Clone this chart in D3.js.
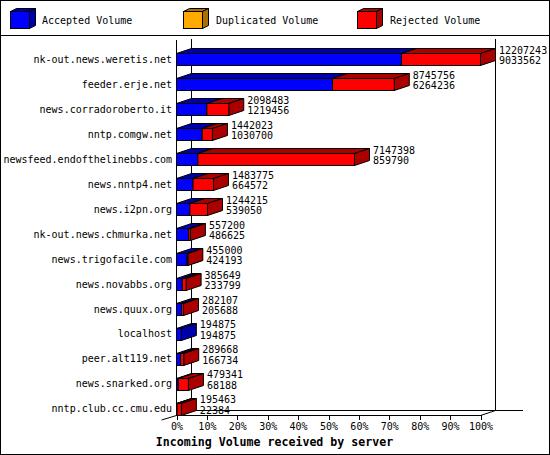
<!DOCTYPE html>
<html><head><meta charset="utf-8">
<script src="https://cdn.jsdelivr.net/npm/d3@7"></script>
<style>
html,body{margin:0;padding:0;background:#fff;}
svg{display:block;}
text{font-family:"DejaVu Sans Mono",monospace;}
</style></head>
<body>
<script>
const servers = ["nk-out.news.weretis.net","feeder.erje.net","news.corradoroberto.it","nntp.comgw.net","newsfeed.endofthelinebbs.com","news.nntp4.net","news.i2pn.org","nk-out.news.chmurka.net","news.trigofacile.com","news.novabbs.org","news.quux.org","localhost","peer.alt119.net","news.snarked.org","nntp.club.cc.cmu.edu"];
const acceptedVolume = [9033562,6264236,1219456,1030700,859790,664572,539050,486625,424193,233799,205688,194875,166734,68188,22384];
const duplicatedVolume = [0,0,0,0,0,0,0,0,0,0,0,0,0,0,0];
const rejectedVolume = [3173681,2481520,879027,411323,6287608,819203,705165,70575,30807,151850,76419,0,122934,411153,173079];
const tickPercents = [0,10,20,30,40,50,60,70,80,90,100];
const seriesNames = ["Accepted Volume","Duplicated Volume","Rejected Volume"];
const frontColors = ["#0000ff","#ffaa00","#ff0000"];
const darkColors = ["#0000aa","#aa7100","#aa0000"];

const W = 550, H = 455;
const svg = d3.select("body").append("svg").attr("width", W).attr("height", H);

const totals = servers.map((s,i)=>acceptedVolume[i]+duplicatedVolume[i]+rejectedVolume[i]);
const maxTotal = d3.max(totals);
const x = d3.scaleLinear().domain([0, maxTotal]).range([176.5, 480.5]);
const y = d3.scaleBand().domain(servers).range([47, 421.3]).padding(0);
const DX = 15, DY = 5, BH = 12;

// outer border & legend separator
svg.append("rect").attr("x",0.5).attr("y",0.5).attr("width",549).attr("height",454)
  .attr("fill","none").attr("stroke","#000").attr("shape-rendering","crispEdges");
svg.append("line").attr("x1",0).attr("x2",550).attr("y1",35.5).attr("y2",35.5)
  .attr("stroke","#000").attr("shape-rendering","crispEdges");

// legend
const legX = [10,183,357], legTX = [42,216,390];
seriesNames.forEach((n,i)=>{
  const g = svg.append("g");
  const bx = legX[i]+0.5, by = 11.5, bw = 19, bh = 17, dx = 6, dy = 3;
  g.append("polygon").attr("points",[[bx,by],[bx+dx,by-dy],[bx+bw+dx,by-dy],[bx+bw,by]].join(" "))
    .attr("fill",darkColors[i]).attr("stroke","#000");
  g.append("polygon").attr("points",[[bx+bw,by],[bx+bw+dx,by-dy],[bx+bw+dx,by+bh-dy],[bx+bw,by+bh]].join(" "))
    .attr("fill",darkColors[i]).attr("stroke","#000");
  g.append("rect").attr("x",bx).attr("y",by).attr("width",bw).attr("height",bh)
    .attr("fill",frontColors[i]).attr("stroke","#000");
  g.append("text").attr("x",legTX[i]).attr("y",20).attr("dominant-baseline","central")
    .attr("font-size","10px").attr("fill","#000").text(n);
});

// axes frame
const frame = svg.append("g").attr("stroke","#000").attr("fill","none").attr("shape-rendering","crispEdges");
const x0 = x(0), x1 = x(maxTotal), yF = 415.5, yB = yF - DY + 0;
frame.append("line").attr("x1",x0+DX).attr("x2",x0+DX).attr("y1",39).attr("y2",yB);
frame.append("line").attr("x1",x1+DX).attr("x2",x1+DX).attr("y1",39).attr("y2",yB);
frame.append("line").attr("x1",x0+DX).attr("x2",523).attr("y1",yB).attr("y2",yB);
svg.append("line").attr("x1",x1).attr("y1",yF).attr("x2",x1+DX).attr("y2",yB).attr("stroke","#000");
svg.append("line").attr("x1",x0-DX).attr("y1",yF+4.5).attr("x2",x0).attr("y2",yF).attr("stroke","#000");
frame.append("line").attr("x1",x0).attr("x2",x0).attr("y1",40).attr("y2",yF);

// x axis
const xAxis = d3.axisBottom(x)
  .tickValues(tickPercents.map(p=>maxTotal*p/100))
  .tickFormat((d,i)=>tickPercents[i]+"%")
  .tickSizeInner(5).tickSizeOuter(0).tickPadding(3);
const ax = svg.append("g").attr("transform",`translate(0,${yF-0.5})`).call(xAxis);
ax.select(".domain").attr("stroke","#000").attr("shape-rendering","crispEdges");
ax.selectAll(".tick line").attr("stroke","#000").attr("shape-rendering","crispEdges");
ax.selectAll(".tick text").attr("font-family","DejaVu Sans Mono").attr("font-size","10px").attr("fill","#000");

// title
svg.append("text").attr("x",274.5).attr("y",442).attr("text-anchor","middle").attr("dominant-baseline","central")
  .attr("font-size","11.6px").attr("font-weight","bold").attr("fill","#000")
  .text("Incoming Volume received by server");

// bars
const series = [acceptedVolume, duplicatedVolume, rejectedVolume];
servers.forEach((s,i)=>{
  const cy = y(s) + y.bandwidth()/2;
  const top = Math.round(cy - BH/2) + 0.5;
  const g = svg.append("g").attr("stroke","#000").attr("stroke-width",1);
  let cum = 0;
  series.forEach((arr,k)=>{
    const v = arr[i];
    if (v <= 0) return;
    const a = x(cum), b = x(cum+v);
    cum += v;
    g.append("polygon").attr("points",[[a,top],[a+DX,top-DY],[b+DX,top-DY],[b,top]].join(" "))
      .attr("fill",darkColors[k]);
    g.append("polygon").attr("points",[[b,top],[b+DX,top-DY],[b+DX,top+BH-DY],[b,top+BH]].join(" "))
      .attr("fill",darkColors[k]);
    g.append("rect").attr("x",a).attr("y",top).attr("width",Math.max(0,b-a)).attr("height",BH)
      .attr("fill",frontColors[k]);
  });
  // category label
  svg.append("text").attr("x",172).attr("y",cy).attr("text-anchor","end").attr("dominant-baseline","central")
    .attr("font-size","10px").attr("fill","#000").text(s);
  // values
  const tx = x(totals[i]) + DX + 3.5;
  svg.append("text").attr("x",tx).attr("y",cy-9).attr("dominant-baseline","central")
    .attr("font-size","10px").attr("fill","#000").text(totals[i]);
  svg.append("text").attr("x",tx).attr("y",cy+1.5).attr("dominant-baseline","central")
    .attr("font-size","10px").attr("fill","#000").text(acceptedVolume[i]);
});
</script>
</body></html>
